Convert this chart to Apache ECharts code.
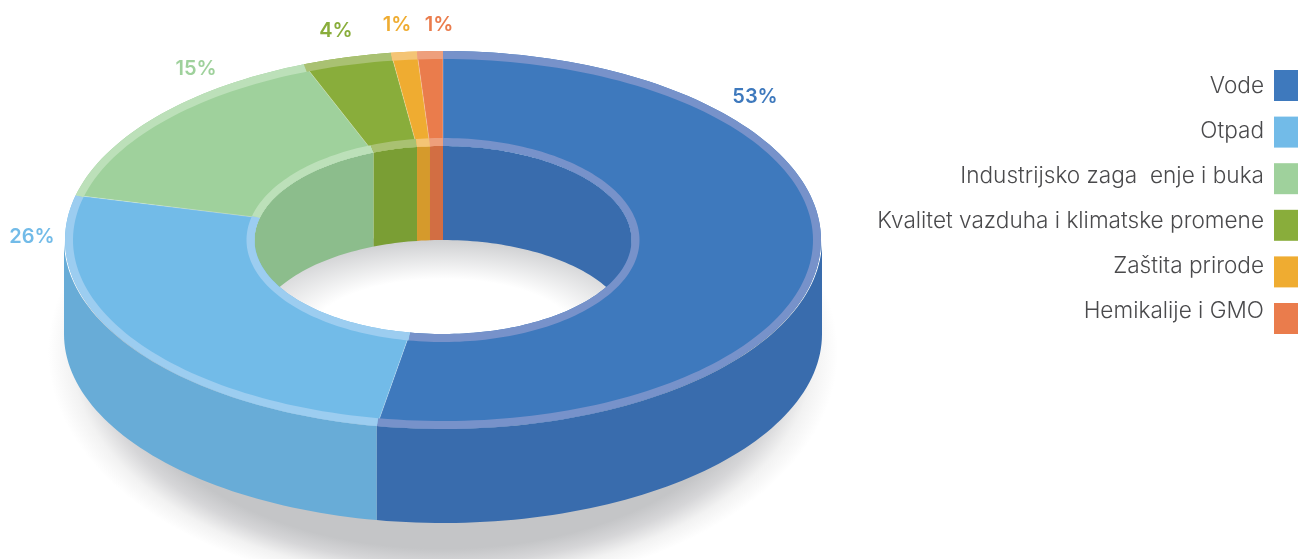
<!DOCTYPE html>
<html>
<head>
<meta charset="utf-8">
<style>html,body{margin:0;padding:0;background:#fff}#c{width:1298px;height:559px}</style>
<script src="https://cdn.jsdelivr.net/npm/echarts@6/dist/echarts.min.js"></script>
</head>
<body>
<div id="c"></div>
<script>
// --- data ---
const categories = ['Vode', 'Otpad', 'Industrijsko zaga  enje i buka', 'Kvalitet vazduha i klimatske promene', 'Zaštita prirode', 'Hemikalije i GMO'];
const shares = [52.8, 26, 15.2, 3.8, 1.1, 1.1];

// --- styles ---
const topColors  = ['#3e79bd', '#72bbe8', '#9fd19c', '#89ad3b', '#efac31', '#ea7c4c'];
const sideColors = ['#396cad', '#68acd7', '#8cbd8c', '#7a9e34', '#d59a2c', '#d26e43'];
const ringColors = ['#7792ca', '#9ccdf0', '#bce0b9', '#a9c172', '#f4c475', '#ee9f7c'];
const labelSpots = [[755, 97], [32, 237], [196, 69], [336, 31], [397, 25], [439, 25]];

// --- projection of the donut ---
const CX = 443, CY = 240, DEPTH = 94;
const OUTER = [378, 189], OUTER_IN = [370, 181], HOLE = [188.5, 94], HOLE_OUT = [196.5, 102];
const total = shares.reduce((a, b) => a + b, 0);
const startDeg = shares.map((_, i) => shares.slice(0, i).reduce((a, b) => a + b, 0) / total * 360);

function pt(r, deg, dy) {
  const a = deg * Math.PI / 180;
  return [CX + r[0] * Math.sin(a), CY - r[1] * Math.cos(a) + (dy || 0)];
}
function arc(r, from, to, dy) {
  const n = Math.max(2, Math.ceil(Math.abs(to - from) / 1.5));
  const out = [];
  for (let k = 0; k <= n; k++) out.push(pt(r, from + (to - from) * k / n, dy));
  return out;
}
function band(r1, r2, from, to, dy1, dy2, fill, z2) {
  return {
    type: 'polygon', z2, silent: true,
    shape: { points: arc(r1, from, to, dy1).concat(arc(r2, to, from, dy2)) },
    style: { fill }
  };
}
function overlap(a, b, lo, hi) {
  const f = Math.max(a, lo), t = Math.min(b, hi);
  return t > f ? [f, t] : null;
}

function renderSlice(params, api) {
  const i = params.seriesIndex;
  const from = startDeg[i], to = from + api.value(0) / total * 360;
  const kids = [];

  // outer wall: front half only
  const front = overlap(from, to, 90, 270);
  if (front) kids.push(band([379, 189], [379, 189], front[0], front[1], 0, DEPTH, sideColors[i], 2));

  // inner wall: back half only; the wedge that straddles 270 shows none, the next one takes over
  const straddles = from < 270 && to > 270;
  const prevStraddles = i > 0 && startDeg[i - 1] < 270 && from > 270;
  if (!straddles) {
    const wf = prevStraddles ? 270 : from;
    const ranges = [overlap(wf, to, 270, 360), overlap(wf, to, 0, 90)];
    ranges.forEach(function (b) {
      if (b) kids.push(band(HOLE, HOLE, b[0], b[1], 0, DEPTH, sideColors[i], 3));
    });
  }

  // top face, thin seam, light rim
  kids.push(band(OUTER, HOLE, from, to, 0, 0, topColors[i], 4));
  const p1 = pt(HOLE, from), p2 = pt(OUTER, from);
  kids.push({
    type: 'line', z2: 5, silent: true,
    shape: { x1: p1[0], y1: p1[1], x2: p2[0], y2: p2[1] },
    style: { stroke: 'rgba(255,255,255,0.25)', lineWidth: 1 }
  });
  kids.push(band(OUTER, OUTER_IN, from, to, 0, 0, ringColors[i], 6));
  kids.push(band(HOLE_OUT, HOLE, from, to, 0, 0, ringColors[i], 6));

  // percentage label
  kids.push({
    type: 'text', z2: 7, silent: true,
    style: {
      x: labelSpots[i][0], y: labelSpots[i][1],
      text: Math.round(api.value(0)) + '%',
      fill: topColors[i], font: '600 20px Inter',
      align: 'center', verticalAlign: 'middle'
    }
  });

  // legend swatch: the reference spaces swatches wider than their captions
  kids.push({
    type: 'rect', z2: 7, silent: true,
    shape: { x: 1274, y: 70 + i * 46.6, width: 24, height: 31 },
    style: { fill: topColors[i] }
  });
  return { type: 'group', children: kids };
}

function renderBacking() {
  return {
    type: 'group',
    children: [
      { // soft ground shadow
        type: 'circle', z2: 0, silent: true,
        x: CX, y: 352, scaleX: 395, scaleY: 240,
        shape: { cx: 0, cy: 0, r: 1 },
        style: {
          fill: {
            type: 'radial', x: 0.5, y: 0.5, r: 0.5,
            colorStops: [
              { offset: 0, color: '#c4c5c7' }, { offset: 0.82, color: '#c4c5c7' },
              { offset: 0.88, color: '#d6d6d8' }, { offset: 0.94, color: '#f2f2f2' },
              { offset: 1, color: '#ffffff' }
            ]
          }
        }
      },
      { // white floor inside the hole
        type: 'ellipse', z2: 1, silent: true,
        shape: { cx: CX, cy: CY, rx: HOLE[0] + 1, ry: HOLE[1] + 1 },
        style: { fill: '#ffffff' }
      },
      { // shadow cast on the floor
        type: 'circle', z2: 1, silent: true,
        x: CX, y: CY + DEPTH, scaleX: 240, scaleY: 100,
        shape: { cx: 0, cy: 0, r: 1 },
        style: {
          fill: {
            type: 'radial', x: 0.5, y: 0.5, r: 0.5,
            colorStops: [
              { offset: 0, color: '#ffffff' }, { offset: 0.55, color: '#ffffff' },
              { offset: 0.95, color: '#cdced0' }, { offset: 1, color: '#cdced0' }
            ]
          }
        }
      }
    ]
  };
}

const option = {
  animation: false,
  backgroundColor: '#ffffff',
  legend: {
    orient: 'vertical', align: 'right', right: 0, top: 74.5, padding: 0,
    itemWidth: 24, itemHeight: 22, itemGap: 22, icon: 'rect', selectedMode: false,
    data: categories.map(function (name) { return { name: name, itemStyle: { opacity: 0 } }; }),
    textStyle: { color: '#4a4a4c', fontFamily: 'Inter', fontWeight: 300, fontSize: 22.6, lineHeight: 22, width: 420, align: 'right', padding: [0, 5, 0, 0] }
  },
  series: categories.map(function (name, i) {
    return {
      type: 'custom', name: name, coordinateSystem: 'none',
      itemStyle: { color: topColors[i] },
      data: [[shares[i]]],
      renderItem: renderSlice,
      silent: true
    };
  }).concat([{
    type: 'custom', name: 'backing', coordinateSystem: 'none',
    data: [[0]], renderItem: renderBacking, silent: true
  }])
};

const chart = echarts.init(document.getElementById('c'), null, { renderer: 'canvas' });
chart.setOption(option);
</script>
</body>
</html>
